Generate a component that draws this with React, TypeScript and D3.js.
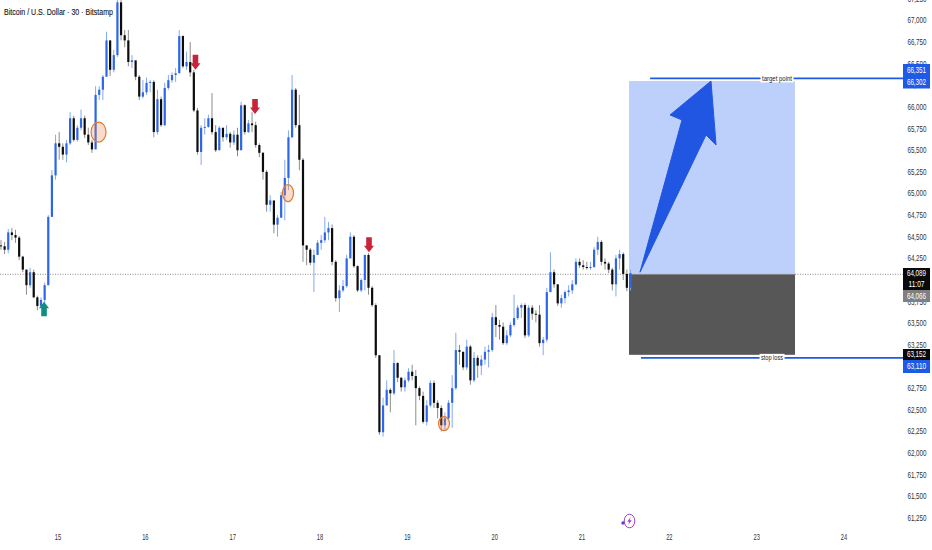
import * as d3 from "d3";

const closes = [
  64390, 64350, 64550, 64520, 64490, 64270, 64120, 63940, 64090, 63800,
  63700, 63770, 63940, 64730, 65210, 65580, 65540, 65450, 65580, 65870,
  65620, 65760, 65870, 65680, 65590, 65510, 66140, 66200, 66350, 66770,
  66430, 66600, 67210, 66830, 66770, 66520, 66540, 66350, 66120, 66170,
  66280, 66290, 65710, 66090, 65790, 66220, 66310, 66370, 66390, 66820,
  66470, 66520, 66400, 65960, 65480, 65760, 65770, 65870, 65710, 65500,
  65760, 65650, 65690, 65590, 65680, 65500, 66020, 65710, 65810, 65790,
  65560, 65470, 65250, 64870, 64920, 64640, 64720, 64980, 65180, 65650,
  66200, 65790, 65390, 64400, 64350, 64200, 64290, 64430, 64460, 64550,
  64600, 64210, 63790, 63880, 63930, 64250, 64500, 64160, 63880, 64000,
  64290, 63910, 63710, 63130, 62240, 62550, 62730, 62690, 63040, 62870,
  62760, 62840, 62940, 62890, 62750, 62660, 62360, 62550, 62810, 62580,
  62520, 62320, 62400, 62580, 62750, 63190, 63170, 62990, 63230, 62840,
  63100, 63010, 63080, 63170, 63190, 63570, 63480, 63460, 63270, 63360,
  63480, 63560, 63680, 63710, 63360, 63680, 63610, 63600, 63270, 63310,
  63860, 64090, 63950, 63730, 63790, 63860, 63880, 63950, 64210, 64170,
  64150, 64140, 64150, 64350, 64440, 64210, 64190, 64120, 63950, 64250,
  64300, 64070, 63910, 64080,
];

const highs = [
  64460, 64440, 64590, 64600, 64580, 64510, 64280, 64120, 64140, 64120,
  63820, 63800, 63970, 64750, 65270, 65680, 65710, 65580, 65620, 65940,
  65900, 65790, 65970, 65900, 65760, 65620, 66240, 66240, 66370, 66870,
  66770, 66660, 67300, 67240, 66890, 66890, 66600, 66520, 66370, 66310,
  66340, 66310, 66310, 66200, 66120, 66280, 66370, 66400, 66450, 66890,
  66830, 66640, 66750, 66430, 65990, 65790, 65870, 65910, 66160, 65790,
  65780, 65760, 65790, 65710, 65730, 65760, 66060, 66030, 65850, 65940,
  65830, 65580, 65480, 65270, 64980, 64870, 64750, 65020, 65390, 65730,
  66370, 66220, 66140, 65410, 64400, 64370, 64350, 64460, 64520, 64730,
  64670, 64640, 64230, 63940, 64000, 64290, 64550, 64520, 64170, 64020,
  64290, 64310, 63930, 63730, 63130, 62640, 62840, 62750, 63190, 63050,
  62880, 62870, 62980, 63020, 62960, 62770, 62710, 62610, 62840, 62840,
  62610, 62550, 62470, 62610, 62900, 63390, 63250, 63170, 63310, 63250,
  63170, 63130, 63130, 63230, 63250, 63620, 63710, 63540, 63510, 63420,
  63510, 63830, 63710, 63730, 63730, 63710, 63710, 63650, 63710, 63340,
  63910, 64320, 64120, 63950, 63830, 63880, 63940, 64000, 64250, 64250,
  64230, 64210, 64210, 64380, 64500, 64460, 64250, 64210, 64140, 64290,
  64350, 64320, 64120, 64120,
];

const lows = [
  64350, 64300, 64310, 64460, 64430, 64230, 64090, 63830, 63910, 63790,
  63650, 63680, 63730, 63940, 64730, 65160, 65390, 65390, 65360, 65560,
  65600, 65600, 65730, 65640, 65560, 65470, 65530, 66080, 66080, 66350,
  66360, 66400, 66580, 66770, 66690, 66470, 66450, 66310, 66080, 66100,
  66140, 66170, 65650, 65680, 65770, 65780, 66200, 66280, 66290, 66400,
  66450, 66430, 66350, 65940, 65450, 65330, 65680, 65760, 65680, 65480,
  65500, 65600, 65620, 65530, 65560, 65430, 65500, 65680, 65700, 65710,
  65530, 65420, 65160, 64790, 64790, 64540, 64500, 64720, 64690, 65040,
  65640, 65760, 65270, 64210, 64170, 64170, 63860, 64290, 64350, 64430,
  64460, 64170, 63750, 63630, 63860, 63910, 64250, 64140, 63860, 63860,
  63880, 63830, 63690, 63100, 62210, 62190, 62550, 62470, 62670, 62820,
  62710, 62710, 62820, 62840, 62320, 62610, 62340, 62320, 62530, 62520,
  62400, 62250, 62260, 62380, 62290, 62730, 63020, 62960, 62960, 62790,
  62820, 62870, 62900, 63020, 62990, 63170, 63340, 63310, 63250, 63250,
  63340, 63460, 63540, 63560, 63330, 63340, 63540, 63510, 63230, 63130,
  63280, 63860, 63910, 63700, 63680, 63730, 63810, 63840, 63940, 64140,
  64120, 64120, 64120, 64140, 64290, 64170, 64120, 64080, 63880, 63810,
  64120, 64000, 63870, 63880,
];

const firstOpen = 64400;
const firstDay = 14.347;
const candlesPerDay = 24;

const priceTicks = [
  67250, 67000, 66750, 66500, 66250, 66000, 65750, 65500, 65250, 65000, 64750, 64500, 64250,
  64000, 63750, 63500, 63250, 63000, 62750, 62500, 62250, 62000, 61750, 61500, 61250,
];
const dayTicks = [15, 16, 17, 18, 19, 20, 21, 22, 23, 24];

// position tool (days / prices)
const toolLeft = 21.538;
const toolRight = 23.439;
const targetTop = 66300;
const entry = 64066;
const stopBottom = 63135;
const targetLine = { from: 21.78, price: 66330, label: "target point", labelDay: 23.233, labelW: 30 };
const stopLine = { from: 21.676, price: 63100, label: "stop loss", labelDay: 23.176, labelW: 22 };

const arrowDays = [21.664, 22.145, 22.008, 22.477, 22.535, 22.42];
const arrowPrices = [64090, 65850, 65908, 66300, 65561, 65677];

const downMarks = [
  { day: 16.574, price: 66430 },
  { day: 17.256, price: 65920 },
  { day: 18.561, price: 64320 },
];
const upMarks = [{ day: 14.84, price: 63750 }];
const circles = [
  { day: 15.464, price: 65710, rx: 7.5, ry: 10 },
  { day: 17.634, price: 65005, rx: 5.5, ry: 8.5 },
  { day: 19.42, price: 62340, rx: 5.5, ry: 7 },
];

// right-hand price tags, stacked the way the chart stacks them
const tags = [
  { text: ["66,351"], top: 64, h: 12, fill: "#1f5ae6", color: "#fff" },
  { text: ["66,302"], top: 76, h: 12.5, fill: "#1f5ae6", color: "#fff" },
  { text: ["64,089", "11:07"], top: 268, h: 22, fill: "#0a0a0a", color: "#fff" },
  { text: ["64,066"], top: 290, h: 12, fill: "#808080", color: "#fff" },
  { text: ["63,152"], top: 349, h: 11, fill: "#0a0a0a", color: "#fff" },
  { text: ["63,110"], top: 360, h: 13, fill: "#1f5ae6", color: "#fff" },
];

const font = "'Liberation Sans', sans-serif";
const blue = "#1f5ae6";

const x = d3.scaleLinear().domain([15, 24]).range([58, 844]);
const y = d3.scaleLinear().domain([64000, 63000]).range([280, 366.5]);

// the chart's labels are narrow, squeeze them to the width they have there
const narrow = (s: string) => s.length * 3.2;

export default function App() {
  const bodyW = 2.2;
  const arrowPath = d3.line()(arrowDays.map((d, i) => [x(d), y(arrowPrices[i])]) as [number, number][]) + "Z";
  return (
    <svg
      width={932}
      height={550}
      viewBox="0 0 932 550"
      style={{ position: "fixed", left: 0, top: 0, display: "block", background: "#fff", fontFamily: font }}
    >
      {/* position tool */}
      <rect x={x(toolLeft)} width={x(toolRight) - x(toolLeft)} y={y(targetTop)} height={y(entry) - y(targetTop)} fill="#bdd0fb" />
      <rect x={x(toolLeft)} width={x(toolRight) - x(toolLeft)} y={y(entry)} height={y(stopBottom) - y(entry)} fill="#575757" />

      {/* last price line */}
      <line x1={0} x2={903} y1={y(entry)} y2={y(entry)} stroke="#8a8a8a" strokeWidth={1} strokeDasharray="1 1.5" />

      {/* candles */}
      <g>
        {closes.map((c, i) => {
          const open = i === 0 ? firstOpen : closes[i - 1];
          const up = c >= open;
          const cx = x(firstDay + i / candlesPerDay);
          return (
            <g key={i}>
              <line x1={cx} x2={cx} y1={y(highs[i])} y2={y(lows[i])} stroke={up ? "#86a8f4" : "#8c8c8c"} strokeWidth={1} />
              <rect
                x={cx - bodyW / 2}
                width={bodyW}
                y={y(Math.max(open, c))}
                height={Math.max(1, Math.abs(y(open) - y(c)))}
                fill={up ? "#2d66ea" : "#0d0d0d"}
              />
            </g>
          );
        })}
      </g>

      {/* markers */}
      {circles.map((c, i) => (
        <ellipse key={i} cx={x(c.day)} cy={y(c.price)} rx={c.rx} ry={c.ry} fill="rgba(240,140,80,0.3)" stroke="#de7a36" strokeWidth={1.2} />
      ))}
      {downMarks.map((m, i) => (
        <path
          key={i}
          transform={`translate(${x(m.day)},${y(m.price)})`}
          d="M0,0 L-5,-6.5 L-2.8,-6.5 L-2.8,-15 L2.8,-15 L2.8,-6.5 L5,-6.5 Z"
          fill="#c9233c"
        />
      ))}
      {upMarks.map((m, i) => (
        <path
          key={i}
          transform={`translate(${x(m.day)},${y(m.price)})`}
          d="M0,0 L5,6.5 L2.8,6.5 L2.8,14.5 L-2.8,14.5 L-2.8,6.5 L-5,6.5 Z"
          fill="#0e8f7d"
        />
      ))}

      {/* big arrow */}
      <path d={arrowPath} fill="#2056e2" stroke="#2056e2" strokeWidth={1} strokeLinejoin="round" />

      {/* target / stop lines */}
      {[targetLine, stopLine].map((l) => (
        <g key={l.label}>
          <line x1={x(l.from)} x2={903} y1={y(l.price)} y2={y(l.price)} stroke={blue} strokeWidth={1.8} />
          <rect x={x(l.labelDay) - l.labelW / 2 - 1.5} width={l.labelW + 3} y={y(l.price) - 4} height={8} fill="#fff" />
          <text
            x={x(l.labelDay)}
            y={y(l.price)}
            dy="0.34em"
            textAnchor="middle"
            fontSize={7.5}
            fill="#222"
            textLength={l.labelW}
            lengthAdjust="spacingAndGlyphs"
          >
            {l.label}
          </text>
        </g>
      ))}

      {/* title */}
      <text x={4} y={15} fontSize={9.5} fill="#222" stroke="#222" strokeWidth={0.15} textLength={109} lengthAdjust="spacingAndGlyphs">
        Bitcoin / U.S. Dollar · 30 · Bitstamp
      </text>

      {/* price axis */}
      {priceTicks.map((p) => {
        const s = d3.format(",")(p);
        return (
          <text key={p} x={917} y={y(p)} dy="0.35em" textAnchor="middle" fontSize={8.5} fill="#333" textLength={narrow(s)} lengthAdjust="spacingAndGlyphs">
            {s}
          </text>
        );
      })}
      {tags.map((t) => (
        <g key={t.text[0]}>
          <rect x={903} y={t.top} width={27} height={t.h} fill={t.fill} />
          {t.text.map((s, j) => (
            <text
              key={s}
              x={916.5}
              y={t.top + (t.h / t.text.length) * (j + 0.5)}
              dy="0.35em"
              textAnchor="middle"
              fontSize={8.5}
              fill={t.color}
              textLength={narrow(s)}
              lengthAdjust="spacingAndGlyphs"
            >
              {s}
            </text>
          ))}
        </g>
      ))}

      {/* time axis */}
      {dayTicks.map((d) => (
        <text key={d} x={x(d)} y={540} textAnchor="middle" fontSize={8.5} fill="#333" textLength={narrow(String(d))} lengthAdjust="spacingAndGlyphs">
          {d}
        </text>
      ))}

      {/* event icon */}
      <g transform="translate(629.5,521)">
        <ellipse rx={5.3} ry={6.8} fill="none" stroke="#9c3fc4" strokeWidth={1} />
        <path d="M1.2,-4 L-2.2,0.8 L-0.2,0.8 L-1.2,4 L2.2,-0.8 L0.2,-0.8 Z" fill="#9c3fc4" />
        <circle cx={-6.5} cy={2} r={1.7} fill="#4a4ae8" />
      </g>
    </svg>
  );
}
